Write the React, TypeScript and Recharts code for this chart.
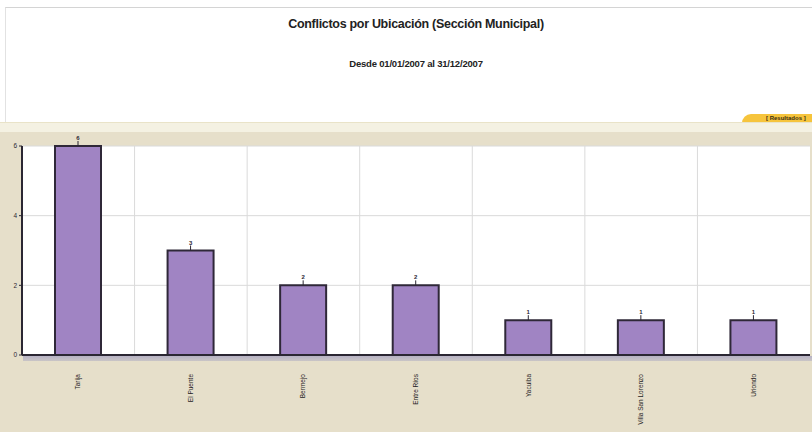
import React from "react"
import {
  Bar,
  BarChart,
  CartesianGrid,
  LabelList,
  XAxis,
  YAxis,
} from "recharts"

// Conflictos registrados por sección municipal, gestión 2007
const secciones = [
  "Tarija",
  "El Puente",
  "Bermejo",
  "Entre Ríos",
  "Yacuiba",
  "Villa San Lorenzo",
  "Uriondo",
]
const conflictos = [6, 3, 2, 2, 1, 1, 1]
const yTicks = [0, 2, 4, 6]

const data = secciones.map((nombre, i) => ({ nombre, total: conflictos[i] }))

const W = 812
const H = 432
const FONT = "'Liberation Sans', Arial, sans-serif"
const INK = "#2b2733"

function CategoryTick({ x, y, payload }: any) {
  return (
    <text
      x={0}
      y={0}
      transform={`translate(${x + 2},${y + 11}) rotate(-90)`}
      textAnchor="end"
      fontSize={6.5}
      fill="#1f1c24"
      fontFamily={FONT}
    >
      {payload.value}
    </text>
  )
}

function ValueLabel({ x, y, width, value }: any) {
  const cx = x + width / 2
  return (
    <g>
      <line x1={cx} x2={cx} y1={y - 5} y2={y} stroke={INK} strokeWidth={1} />
      <text
        x={cx}
        y={y - 6}
        textAnchor="middle"
        fontSize={6}
        fontWeight="bold"
        fill={INK}
        fontFamily={FONT}
      >
        {value}
      </text>
    </g>
  )
}

export default function App() {
  return (
    <div
      style={{
        position: "fixed",
        left: 0,
        top: 0,
        width: W,
        height: H,
        overflow: "hidden",
        background: "#fff",
        fontFamily: FONT,
      }}
    >
      {/* cabecera */}
      <div
        style={{
          position: "absolute",
          left: 5,
          top: 7,
          right: 0,
          height: 116,
          borderTop: "1px solid #d4d4d4",
          borderLeft: "1px solid #e2e2e2",
        }}
      />
      <div
        style={{
          position: "absolute",
          left: 0,
          width: W,
          top: 17,
          textAlign: "center",
          paddingLeft: 20,
          boxSizing: "border-box",
          fontSize: 12.5,
          fontWeight: "bold",
          color: "#222",
          letterSpacing: -0.3,
        }}
      >
        Conflictos por Ubicación (Sección Municipal)
      </div>
      <div
        style={{
          position: "absolute",
          left: 0,
          width: W,
          top: 58,
          textAlign: "center",
          paddingLeft: 20,
          boxSizing: "border-box",
          fontSize: 9.5,
          fontWeight: "bold",
          color: "#222",
          letterSpacing: -0.2,
        }}
      >
        Desde 01/01/2007 al 31/12/2007
      </div>

      {/* pestaña de resultados */}
      <div
        style={{
          position: "absolute",
          left: 742,
          top: 114,
          width: 80,
          height: 9,
          background: "#f6c43c",
          borderTopLeftRadius: 10,
        }}
      />
      <div
        style={{
          position: "absolute",
          left: 766,
          top: 114.5,
          fontSize: 6,
          fontWeight: "bold",
          color: "#3a2e10",
          whiteSpace: "nowrap",
        }}
      >
        [ Resultados ]
      </div>

      {/* franjas del panel */}
      <div
        style={{
          position: "absolute",
          left: 0,
          top: 122,
          width: W,
          height: 10,
          background: "#f4f1e2",
          borderTop: "1px solid #e9e3c8",
        }}
      />
      <div
        style={{
          position: "absolute",
          left: 0,
          top: 132,
          width: W,
          height: H - 132,
          background: "#e6dfca",
        }}
      />

      <div style={{ position: "absolute", left: 0, top: 0 }}>
        <BarChart
          width={W}
          height={H}
          data={data}
          margin={{ top: 146, right: 2, bottom: 0, left: 0 }}
          barCategoryGap={0}
        >
          <CartesianGrid
            fill="#ffffff"
            stroke="#dadada"
            strokeWidth={1}
            verticalCoordinatesGenerator={({ offset }: any) =>
              secciones.map(
                (_, i) => offset.left + (offset.width * i) / secciones.length
              )
            }
          />
          <XAxis
            dataKey="nombre"
            height={77}
            interval={0}
            axisLine={{ stroke: INK, strokeWidth: 2 }}
            tickLine={false}
            tick={<CategoryTick />}
          />
          <YAxis
            width={22}
            domain={[0, 6]}
            ticks={yTicks}
            axisLine={{ stroke: INK, strokeWidth: 2 }}
            tickLine={{ stroke: INK }}
            tickSize={3}
            tick={{ fontSize: 6.5, fill: INK, fontFamily: FONT }}
          />
          <Bar
            dataKey="total"
            barSize={46}
            fill="#a084c3"
            stroke="#2f2838"
            strokeWidth={2}
            isAnimationActive={false}
          >
            <LabelList dataKey="total" content={<ValueLabel />} />
          </Bar>
        </BarChart>
      </div>

      {/* base del eje de categorías */}
      <div
        style={{
          position: "absolute",
          left: 23,
          top: 356,
          width: W - 23,
          height: 5,
          background: "linear-gradient(#b7b2c4, #c9c5c6)",
        }}
      />
    </div>
  )
}
